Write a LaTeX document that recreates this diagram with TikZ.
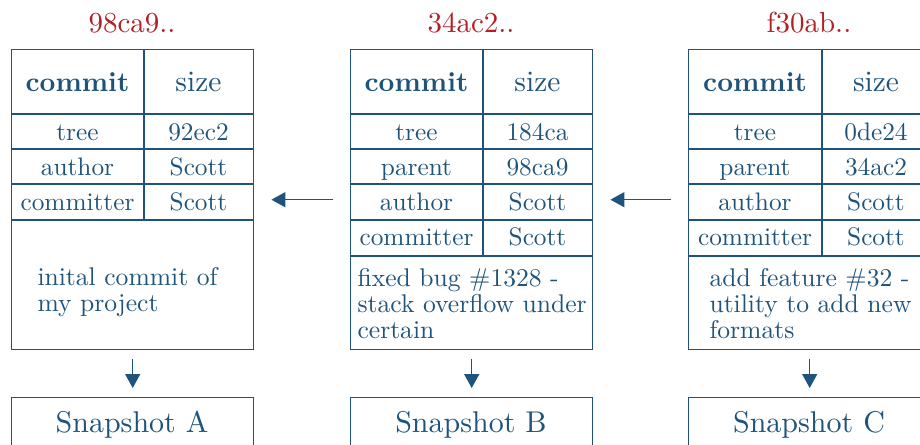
\documentclass[tikz,border=0pt]{standalone}
\usetikzlibrary{arrows.meta}
\definecolor{gblue}{RGB}{30,84,124}
\definecolor{gred}{RGB}{176,32,38}
\tikzset{
  box/.style={draw=gblue, line width=1.4pt, anchor=north west, inner sep=0pt, minimum width=242pt},
  grid/.style={draw=gblue, line width=1.4pt},
  tenpt/.style={font=\fontsize{10}{10.2}\selectfont, transform shape},
  cell/.style={tenpt, text=gblue, anchor=base, inner sep=0pt, scale=2.53},
  headb/.style={tenpt, text=gblue, anchor=base, inner sep=0pt, scale=2.75},
  head/.style={tenpt, text=gblue, anchor=base, inner sep=0pt, scale=2.95},
  hash/.style={tenpt, text=gred, anchor=base, inner sep=0pt, scale=2.9},
  msg/.style={tenpt, text=gblue, anchor=north west, inner sep=0pt, align=left, scale=2.56},
  snap/.style={draw=gblue, line width=1.4pt, anchor=north west, inner sep=0pt, minimum width=242pt, minimum height=56pt},
  snaptext/.style={tenpt, text=gblue, anchor=base, inner sep=0pt, scale=3.0},
  link/.style={draw=gblue, line width=1.5pt, -{Triangle[length=14pt,width=15pt]}},
}
\begin{document}
\begin{tikzpicture}[x=1pt,y=-1pt]
\clip (0,0) rectangle (920,444);
\fill[white] (0,0) rectangle (920,444);
% ---- commit A
\node[box, minimum height=300pt] (A) at (11,49) {};
\draw[grid] (11,114) -- (253,114) (11,149) -- (253,149) (11,184) -- (253,184) (11,220) -- (253,220);
\draw[grid] (144,49) -- (144,220);
\node[hash] (hA) at (132,33) {98ca9..};
\node[headb] (cA) at (77.5,91) {\bfseries commit};
\node[head] (sA) at (198.5,91) {size};
\node[cell] (tA) at (77.5,140) {tree};
\node[cell] (tvA) at (198.5,140) {92ec2};
\node[cell] (aA) at (77.5,175) {author};
\node[cell] (avA) at (198.5,175) {Scott};
\node[cell] (mA) at (77.5,210) {committer};
\node[cell] (mvA) at (198.5,210) {Scott};
\node[msg] (gA) at (37,267) {inital commit of\\my project};
% ---- commit B
\node[box, minimum height=300pt] (B) at (350,49) {};
\draw[grid] (350,114) -- (592,114) (350,149) -- (592,149) (350,184) -- (592,184) (350,220) -- (592,220) (350,256) -- (592,256);
\draw[grid] (483,49) -- (483,256);
\node[hash] (hB) at (471,33) {34ac2..};
\node[headb] (cB) at (416.5,91) {\bfseries commit};
\node[head] (sB) at (537.5,91) {size};
\node[cell] (tB) at (416.5,140) {tree};
\node[cell] (tvB) at (537.5,140) {184ca};
\node[cell] (pB) at (416.5,175) {parent};
\node[cell] (pvB) at (537.5,175) {98ca9};
\node[cell] (aB) at (416.5,210) {author};
\node[cell] (avB) at (537.5,210) {Scott};
\node[cell] (mB) at (416.5,245) {committer};
\node[cell] (mvB) at (537.5,245) {Scott};
\node[msg] (gB) at (357,268) {fixed bug \#1328 -\\stack overflow under\\certain};
% ---- commit C
\node[box, minimum height=300pt] (C) at (688,49) {};
\draw[grid] (688,114) -- (930,114) (688,149) -- (930,149) (688,184) -- (930,184) (688,220) -- (930,220) (688,256) -- (930,256);
\draw[grid] (822,49) -- (822,256);
\node[hash] (hC) at (809,33) {f30ab..};
\node[headb] (cC) at (755,91) {\bfseries commit};
\node[head] (sC) at (876,91) {size};
\node[cell] (tC) at (755,140) {tree};
\node[cell] (tvC) at (876,140) {0de24};
\node[cell] (pC) at (755,175) {parent};
\node[cell] (pvC) at (876,175) {34ac2};
\node[cell] (aC) at (755,210) {author};
\node[cell] (avC) at (876,210) {Scott};
\node[cell] (mC) at (755,245) {committer};
\node[cell] (mvC) at (876,245) {Scott};
\node[msg] (gC) at (709,268) {add feature \#32 -\\utility to add new\\formats};
% ---- snapshots
\node[snap] (SA) at (11,397) {};
\node[snap] (SB) at (350,397) {};
\node[snap] (SC) at (688,397) {};
\node[snaptext] (tSA) at (132,432) {Snapshot A};
\node[snaptext] (tSB) at (471,432) {Snapshot B};
\node[snaptext] (tSC) at (809,432) {Snapshot C};
% ---- connectors
\draw[link, shorten <=17pt, shorten >=17pt] (B.west) -- (A.east);
\draw[link, shorten <=17pt, shorten >=17pt] (C.west) -- (B.east);
\draw[link, shorten <=9pt, shorten >=9pt] (A.south) -- (SA.north);
\draw[link, shorten <=9pt, shorten >=9pt] (B.south) -- (SB.north);
\draw[link, shorten <=9pt, shorten >=9pt] (C.south) -- (SC.north);
\end{tikzpicture}
\end{document}
